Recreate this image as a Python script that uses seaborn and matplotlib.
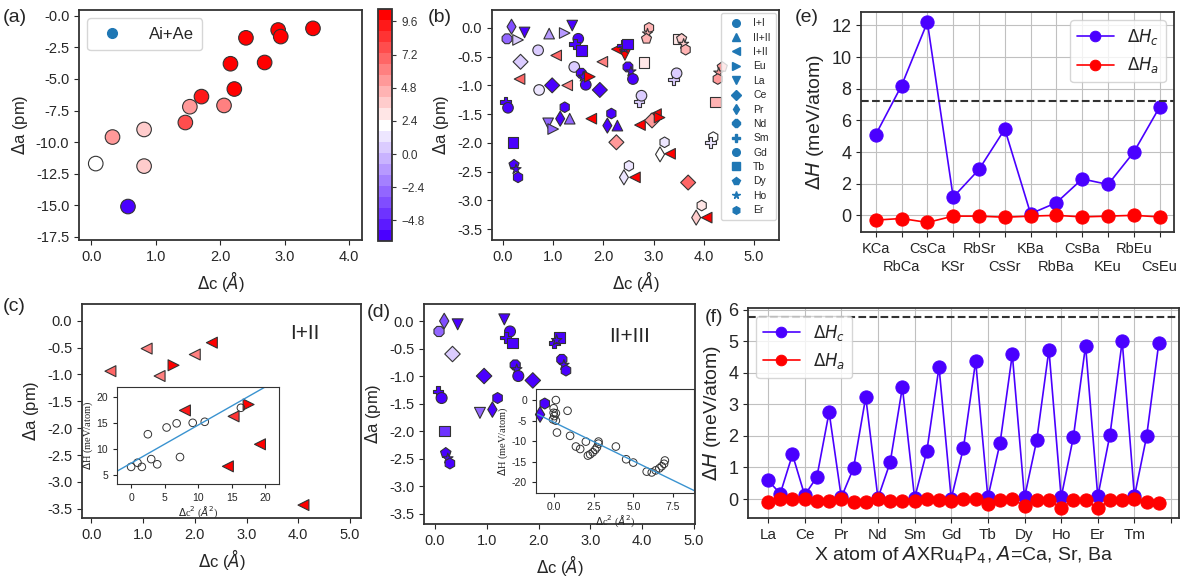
import matplotlib
matplotlib.use('Agg')
import matplotlib.pyplot as plt
import matplotlib.colors as mcolors
from matplotlib.lines import Line2D
import seaborn as sns
import numpy as np
import pandas as pd

# ---------------- dados ----------------
# (a) Ai+Ae
a_dc = [2.90, 2.94, 3.44, 2.40, 2.16, 2.69, 2.22, 1.71, 1.53, 2.06, 1.46, 0.33, 0.82, 0.82, 0.07, 0.57]
a_da = [-1.13, -1.65, -1.0, -1.75, -3.8, -3.7, -5.8, -6.4, -7.2, -7.1, -8.45, -9.6, -9.0, -11.9, -11.7, -15.1]
a_dh = [10, 10, 10, 10, 10, 10, 10, 9.5, 5.2, 5.8, 7.8, 5.0, 3.4, 3.4, 2.2, -6]
a_yticks = [0.0, -2.5, -5.0, -7.5, -10.0, -12.5, -15.0, -17.5]
a_ylabels = ['-0.0', '-2.5', '-5.0', '-7.5', '-10.0', '-12.5', '-15.0', '-17.5']
cb_ticks = [9.6, 7.2, 4.8, 2.4, 0.0, -2.4, -4.8]

# (b) todos os pares
b_dc = [0.17, 0.08, 0.30, 0.43, 0.92, 1.23, 1.38, 0.70, 0.35, 1.06, 0.33, 1.50, 1.43, 1.56, 1.42,
        0.98, 0.72, 1.28, 1.56, 1.60, 1.65, 1.73, 1.93, 1.98, 2.27, 2.43, 2.38, 2.42, 2.48, 2.49,
        2.55, 2.59, 0.05, 0.10, 0.20, 0.22, 0.26, 0.30, 0.90, 1.00, 1.23, 1.14, 1.33, 1.76, 2.16,
        2.08, 2.28, 2.26, 2.73, 2.81, 2.91, 2.88, 2.86, 2.71, 2.76, 3.05, 2.97, 3.12, 3.49, 3.56,
        3.60, 3.64, 3.40, 3.46, 3.22, 3.13, 3.33, 2.51, 2.41, 2.63, 3.69, 3.96, 3.85, 4.06, 4.19,
        4.14, 4.24, 4.37, 4.30, 4.28]
b_da = [0.02, -0.19, -0.21, -0.08, -0.10, -0.09, 0.04, -0.39, -0.59, -0.48, -0.89, -0.19, -0.28, -0.39, -0.68,
        -1.00, -1.08, -1.00, -0.79, -0.85, -0.99, -0.85, -1.08, -0.59, -0.37, -0.47, -0.31, -0.36, -0.28, -0.68,
        -0.76, -0.89, -1.29, -1.39, -1.99, -2.38, -2.46, -2.60, -1.66, -1.76, -1.38, -1.58, -1.58, -1.58, -1.49,
        -1.70, -1.70, -1.99, -1.69, -0.60, 0.0, -0.10, -0.19, -1.28, -1.18, -1.50, -1.61, -1.56, -0.19, -0.19,
        -0.28, -0.38, -0.90, -0.79, -1.99, -2.20, -2.19, -2.40, -2.60, -2.60, -2.69, -3.09, -3.30, -3.30, -1.90,
        -1.99, -1.29, -0.68, -0.78, -0.89]
b_grp = ['Pr', 'Nd', 'Eu', 'La', 'II+II', 'Eu', 'La', 'I+I', 'Ce', 'I+II', 'I+II', 'Gd', 'Sm', 'Tb', 'I+I',
         'Ce', 'I+I', 'I+II', 'Nd', 'Ho', 'Gd', 'Eu', 'Ce', 'I+II', 'I+II', 'La', 'Sm', 'Ho', 'Tb', 'Nd',
         'Ho', 'Gd', 'Sm', 'Gd', 'Tb', 'Dy', 'Ho', 'Er', 'La', 'Eu', 'Er', 'Pr', 'II+II', 'I+II', 'Er',
         'Pr', 'II+II', 'Ce', 'I+II', 'Tb', 'Er', 'Ho', 'Dy', 'Sm', 'Gd', 'I+II', 'Ce', 'Eu', 'Tb', 'Dy',
         'Ho', 'Er', 'Sm', 'Gd', 'Er', 'Pr', 'I+II', 'Er', 'Pr', 'I+II', 'Ce', 'Er', 'Pr', 'I+II', 'Er',
         'Sm', 'Tb', 'Dy', 'Ho', 'Er']
b_dh = [-3.5, -3, 0.8, -5.5, -1.5, -1.2, -5.5, 0.8, 0.8, 6.5, 6.5, -6, -6, -6, 0.8,
        -6, 1.0, 6.0, -6, -6, -6, 10, -6, 6.0, 10, 10, -6, -6, -6, -6,
        -6, -6, -6, -6, -6, -6, -6, -6, -3, -2.5, -6, -6, -2.5, 10, -6,
        -6, -5.5, 5, 10, 3, 4.5, 4.5, 4.5, 0.3, 0.3, 10, 5, 10, 3.0, 4,
        4, 4.5, 0.5, 0.5, 1.0, 2.1, 10, 1.0, 1.5, 10, 7, 3.2, 3.8, 10, 2.1,
        1.5, 4.5, 5.5, 5.5, 5]
b_legend = ['I+I', 'II+II', 'I+II', 'Eu', 'La', 'Ce', 'Pr', 'Nd', 'Sm', 'Gd', 'Tb', 'Dy', 'Ho', 'Er']

# (c) I+II
c_dc = [0.37, 1.07, 1.32, 1.59, 2.00, 2.33, 1.81, 2.75, 3.04, 3.26, 2.64, 4.10]
c_da = [-0.94, -0.52, -1.03, -0.83, -0.63, -0.41, -1.67, -1.78, -1.56, -2.30, -2.71, -3.43]
c_grp = ['I+II', 'I+II', 'I+II', 'Eu', 'I+II', 'I+II', 'I+II', 'I+II', 'Eu', 'I+II', 'I+II', 'I+II']
c_dh = [6.5, 6.0, 6.0, 10, 6.0, 10, 9, 8.5, 10, 10, 10, 10]
ci_dc2 = [0.0, 0.95, 1.6, 2.5, 3.0, 3.9, 5.3, 6.8, 7.3, 9.2, 11.0, 16.4]
ci_dh = [6.6, 7.4, 6.6, 12.9, 8.1, 7.1, 14.2, 15.0, 8.5, 15.1, 15.3, 18.0]
ci_fit_x = [-2.2, 20.0]
ci_fit_y = [5.7, 22.0]

# (d) II+III
d_dc = [0.18, 0.08, 0.44, 0.34, 1.34, 1.45, 1.37, 1.50, 1.55, 1.58, 1.61, 0.95, 1.89, 2.30, 2.41,
        2.35, 2.45, 2.49, 2.53, 0.06, 0.13, 0.18, 0.21, 0.25, 0.29, 0.87, 1.21, 1.11, 2.12, 2.03]
d_da = [0.0, -0.19, -0.06, -0.60, 0.03, -0.19, -0.30, -0.40, -0.80, -0.88, -1.00, -1.00, -1.08, -0.40, -0.30,
        -0.35, -0.70, -0.80, -0.90, -1.28, -1.40, -2.00, -2.40, -2.50, -2.59, -1.67, -1.40, -1.61, -1.50, -1.70]
d_grp = ['Pr', 'Nd', 'La', 'Ce', 'La', 'Gd', 'Sm', 'Tb', 'Nd', 'Ho', 'Gd', 'Ce', 'Ce', 'Sm', 'Tb',
         'Ho', 'Nd', 'Ho', 'Er', 'Sm', 'Gd', 'Tb', 'Dy', 'Ho', 'Er', 'La', 'Er', 'Pr', 'Er', 'Pr']
d_dh = [-3.5, -3, -6, 0.8, -6, -6, -6, -6, -6, -6, -6, -6, -6, -6, -6,
        -6, -6, -6, -6, -6, -6, -4.5, -6, -6, -6, -3, -6, -6, -6, -6]
di_dc2 = [0.1, -0.04, -0.04, 0.0, -0.08, 0.1, 0.1, 0.84, 0.17, 1.0, 1.37, 1.64, 2.0, 2.13, 2.27, 2.44,
          2.59, 2.7, 2.8, 2.8, 3.9, 4.55, 5.0, 5.85, 6.17, 6.42, 6.65, 6.8, 6.95, 7.0]
di_dh = [0.0, -2.0, -3.1, -3.9, -4.7, -5.0, -3.2, -2.6, -7.9, -8.7, -11.3, -11.9, -10.1, -13.5, -13.2, -12.7,
         -12.1, -11.5, -10.6, -10.1, -11.3, -14.4, -15.2, -17.4, -17.6, -17.1, -16.6, -16.1, -15.5, -14.7]
di_fit_x = [-1.2, 8.9]
di_fit_y = [-3.2, -22.1]

# (e) AAe
e_pairs = ['KCa', 'RbCa', 'CsCa', 'KSr', 'RbSr', 'CsSr', 'KBa', 'RbBa', 'CsBa', 'KEu', 'RbEu', 'CsEu']
e_hc = [5.1, 8.2, 12.2, 1.15, 2.9, 5.45, 0.1, 0.8, 2.3, 1.95, 4.0, 6.85]
e_ha = [-0.3, -0.2, -0.45, -0.05, -0.05, -0.12, -0.05, 0.0, -0.1, -0.05, 0.0, -0.1]
e_ref = 7.2

# (f) AXRu4P4
f_elems = ['La', 'Ce', 'Pr', 'Nd', 'Sm', 'Gd', 'Tb', 'Dy', 'Ho', 'Er', 'Tm', '']
f_hc = [0.59, 0.17, 1.41, 0.12, 0.70, 2.75, 0.05, 0.98, 3.23, 0.03, 1.16, 3.54, 0.03, 1.51, 4.18, 0.01, 1.62,
        4.37, 0.05, 1.78, 4.58, 0.05, 1.86, 4.73, 0.05, 1.96, 4.86, 0.08, 2.04, 5.0, 0.08, 1.99, 4.95]
f_ha = [-0.1, 0.0, 0.0, 0.0, -0.05, -0.05, 0.0, -0.1, -0.1, 0.0, -0.07, -0.07, -0.07, 0.0, -0.02, -0.06, 0.0,
        0.0, -0.17, -0.03, 0.0, -0.22, -0.02, -0.03, -0.27, -0.03, -0.03, -0.3, -0.03, -0.02, 0.0, -0.1, -0.12]
f_ref = 5.76

# ---------------- estilo ----------------
sns.set_style("ticks")
plt.rcParams['font.family'] = ['Liberation Sans', 'DejaVu Sans']
plt.rcParams['axes.unicode_minus'] = False
plt.rcParams['axes.edgecolor'] = '#333333'
plt.rcParams['axes.linewidth'] = 1.3

azul = '#4a00ff'
vermelho = '#ff0000'
cmap = mcolors.LinearSegmentedColormap.from_list('bwr_v', [azul, 'white', vermelho], N=21)
norm = mcolors.Normalize(vmin=-6.3, vmax=10.5)
marcadores = {'I+I': 'o', 'II+II': '^', 'I+II': '<', 'Eu': '>', 'La': 'v', 'Ce': 'D', 'Pr': 'd',
              'Nd': '8', 'Sm': 'P', 'Gd': 'o', 'Tb': 's', 'Dy': 'p', 'Ho': '*', 'Er': 'h'}

fig = plt.figure(figsize=(11.86, 5.77), dpi=100)


def espalha(ax, x, y, grp, dh, s):
    df = pd.DataFrame({'x': x, 'y': y, 'g': grp, 'h': dh})
    mk = {g: marcadores[g] for g in df['g'].unique()}
    sns.scatterplot(data=df, x='x', y='y', hue='h', hue_norm=norm, palette=cmap,
                    style='g', markers=mk, s=s, edgecolor='#333333', linewidth=0.8,
                    legend=False, ax=ax)


def eixo_dc(ax, xlim, ylim):
    ax.set_xlim(*xlim)
    ax.set_ylim(*ylim)
    ax.set_xticks(np.arange(0, 5.1, 1.0))
    ax.set_xticklabels(['%.1f' % v for v in np.arange(0, 5.1, 1.0)])
    ax.set_yticks(np.arange(0, -3.6, -0.5))
    ax.set_yticklabels(['%.1f' % v if v != 0 else '0.0' for v in np.arange(0, -3.6, -0.5)])
    ax.tick_params(labelsize=10.5)
    ax.set_xlabel(r'$\Delta$c ($\AA$)', fontsize=12)
    ax.set_ylabel(r'$\Delta$a (pm)', fontsize=12)


def linhas_dh(ax, x, hc, ha, ref):
    sns.lineplot(x=x, y=hc, color=azul, marker='o', markersize=9.5, markeredgecolor=azul,
                 lw=1.2, label=r'$\Delta H_c$', ax=ax)
    sns.lineplot(x=x, y=ha, color=vermelho, marker='o', markersize=9.5, markeredgecolor=vermelho,
                 lw=1.2, label=r'$\Delta H_a$', ax=ax)
    ax.axhline(ref, ls='--', color='#333333', lw=1.5)
    ax.grid(True, color='#c0c0c0', lw=0.8)
    ax.tick_params(axis='y', labelsize=13)
    ax.set_ylabel(r'$\Delta H$ (meV/atom)', fontsize=14)


# (a)
ax_a = fig.add_axes([0.0666, 0.584, 0.2386, 0.3986])
df_a = pd.DataFrame({'x': a_dc, 'y': a_da, 'h': a_dh})
sns.scatterplot(data=df_a, x='x', y='y', hue='h', hue_norm=norm, palette=cmap, s=110,
                edgecolor='#333333', linewidth=0.8, legend=False, ax=ax_a)
ax_a.set_xlim(-0.19, 4.2)
ax_a.set_ylim(-17.75, 0.45)
ax_a.set_xticks([0, 1, 2, 3, 4])
ax_a.set_xticklabels(['0.0', '1.0', '2.0', '3.0', '4.0'])
ax_a.set_yticks(a_yticks)
ax_a.set_yticklabels(a_ylabels)
ax_a.tick_params(labelsize=10.5)
ax_a.set_xlabel(r'$\Delta$c ($\AA$)', fontsize=12)
ax_a.set_ylabel(r'$\Delta$a (pm)', fontsize=12)
ax_a.legend(handles=[Line2D([], [], ls='', marker='o', color='#1f77b4', markersize=7)],
            labels=['Ai+Ae'], loc='upper left', fontsize=12, handletextpad=1.2, borderpad=0.5)

cax = fig.add_axes([0.3187, 0.5823, 0.0118, 0.402])
cb = fig.colorbar(plt.cm.ScalarMappable(norm=norm, cmap=cmap), cax=cax)
cb.set_ticks(cb_ticks)
cb.set_ticklabels([('%.1f' % t).replace('-', '\u2212') for t in cb_ticks])
cb.ax.tick_params(labelsize=8.5, length=3, colors='#333333')
cb.outline.set_edgecolor('#333333')

# (b)
ax_b = fig.add_axes([0.4148, 0.584, 0.242, 0.3986])
espalha(ax_b, b_dc, b_da, b_grp, b_dh, 58)
eixo_dc(ax_b, (-0.22, 5.5), (-3.69, 0.31))
hs = [Line2D([], [], ls='', marker=marcadores[g], color='#1f77b4', markersize=5.5) for g in b_legend]
ax_b.legend(handles=hs, labels=b_legend, loc='upper right', fontsize=7.5, labelspacing=0.42,
            handletextpad=0.6, borderpad=0.5, borderaxespad=0.3)

# (c)
ax_c = fig.add_axes([0.0691, 0.1023, 0.2352, 0.3709])
espalha(ax_c, c_dc, c_da, c_grp, c_dh, 62)
eixo_dc(ax_c, (-0.18, 5.21), (-3.67, 0.31))
ax_c.text(0.80, 0.86, 'I+II', transform=ax_c.transAxes, fontsize=15, ha='center', va='center')
ins_c = fig.add_axes([0.0987, 0.1612, 0.1366, 0.168], facecolor='none')
sns.scatterplot(x=ci_dc2, y=ci_dh, s=30, facecolor='none', edgecolor='#333333', linewidth=0.7, ax=ins_c)
sns.lineplot(x=ci_fit_x, y=ci_fit_y, color='#3a93d0', lw=1, ax=ins_c)
ins_c.set_xlim(-2.1, 22.1)
ins_c.set_ylim(3.3, 22)
ins_c.set_xticks([0, 5, 10, 15, 20])
ins_c.set_yticks([5, 10, 15, 20])
ins_c.tick_params(labelsize=7.5, length=3, width=0.8)
for sp in ins_c.spines.values():
    sp.set_linewidth(0.8)
ins_c.set_xlabel(r'$\Delta$c$^2$ ($\AA^2$)', fontsize=7.5, family='Liberation Serif', labelpad=1)
ins_c.set_ylabel(r'$\Delta$H (meV/atom)', fontsize=7.5, family='Liberation Serif', labelpad=1)

# (d)
ax_d = fig.add_axes([0.3575, 0.0919, 0.2285, 0.3813])
espalha(ax_d, d_dc, d_da, d_grp, d_dh, 62)
eixo_dc(ax_d, (-0.21, 5.02), (-3.69, 0.31))
ax_d.text(0.76, 0.85, 'II+III', transform=ax_d.transAxes, fontsize=15, ha='center', va='center')
ins_d = fig.add_axes([0.4519, 0.1456, 0.1332, 0.180], facecolor='none')
sns.scatterplot(x=di_dc2, y=di_dh, s=30, facecolor='none', edgecolor='#333333', linewidth=0.7, ax=ins_d)
sns.lineplot(x=di_fit_x, y=di_fit_y, color='#3a93d0', lw=1, ax=ins_d)
ins_d.set_xlim(-1.16, 8.84)
ins_d.set_ylim(-22.6, 2.66)
ins_d.set_xticks([0.0, 2.5, 5.0, 7.5])
ins_d.set_yticks([0, -5, -10, -15, -20])
ins_d.tick_params(labelsize=7.5, length=3, width=0.8)
for sp in ins_d.spines.values():
    sp.set_linewidth(0.8)
ins_d.set_xlabel(r'$\Delta$c$^2$ ($\AA^2$)', fontsize=7.5, family='Liberation Serif', labelpad=1)
ins_d.set_ylabel(r'$\Delta$H (meV/atom)', fontsize=7.5, family='Liberation Serif', labelpad=1)

# (e)
ax_e = fig.add_axes([0.726, 0.598, 0.264, 0.381])
xe = np.arange(len(e_pairs))
linhas_dh(ax_e, xe, e_hc, e_ha, e_ref)
ax_e.set_xlim(-0.57, 11.56)
ax_e.set_ylim(-1.05, 12.84)
ax_e.set_xticks(xe)
ax_e.set_xticklabels(e_pairs, fontsize=10.5)
for i, tk in enumerate(ax_e.xaxis.get_major_ticks()):
    if i % 2 == 1:
        tk.set_pad(17)
ax_e.set_yticks([0, 2, 4, 6, 8, 10, 12])
ax_e.legend(loc='upper right', fontsize=12, handlelength=2.2, markerscale=0.8)

# (f)
ax_f = fig.add_axes([0.6307, 0.1023, 0.3634, 0.364])
xf = np.arange(len(f_hc))
linhas_dh(ax_f, xf, f_hc, f_ha, f_ref)
ax_f.set_xlim(-1.64, 33.65)
ax_f.set_ylim(-0.6, 6.05)
ax_f.set_xticks(np.arange(0, 34, 3))
ax_f.set_xticklabels(f_elems, fontsize=11)
ax_f.set_yticks([0, 1, 2, 3, 4, 5, 6])
ax_f.set_xlabel(r'X atom of $\mathit{A}$XRu$_4$P$_4$, $\mathit{A}$=Ca, Sr, Ba', fontsize=14, labelpad=2)
ax_f.legend(loc='upper left', fontsize=12, handlelength=2.2, markerscale=0.8)

# rótulos dos painéis
for txt, x, y in [('(a)', 0.002, 0.97), ('(b)', 0.361, 0.97), ('(e)', 0.67, 0.97),
                  ('(c)', 0.002, 0.468), ('(d)', 0.309, 0.458), ('(f)', 0.594, 0.45)]:
    fig.text(x, y, txt, fontsize=14, va='center', ha='left')

fig.savefig('out.png', dpi=100)
